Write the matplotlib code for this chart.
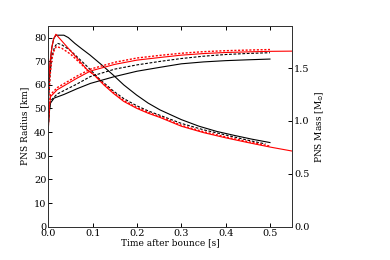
import matplotlib
matplotlib.use('Agg')
import matplotlib.pyplot as plt

plt.rcParams['font.family'] = 'DejaVu Serif'
plt.rcParams['font.size'] = 7

# PNS radius [km] vs time after bounce [s]
t_rad_k = [0.0, 0.004, 0.008, 0.012, 0.017, 0.035, 0.045, 0.06, 0.075, 0.094, 0.12, 0.146, 0.17, 0.199,
           0.225, 0.252, 0.3, 0.34, 0.38, 0.42, 0.46, 0.5]
rad_k = [55, 69, 76, 79.5, 81, 81, 80, 77.5, 75.3, 72.6, 68.5, 64.2, 60, 55.7,
         52.3, 49.4, 45.3, 42.5, 40.3, 38.6, 37.0, 35.6]

t_rad_kd = [0.0, 0.004, 0.008, 0.014, 0.02, 0.03, 0.05, 0.088, 0.115, 0.146, 0.17, 0.199, 0.225, 0.252,
            0.3, 0.35, 0.4, 0.45, 0.49]
rad_kd = [52, 65, 72, 76, 77.6, 77, 74.5, 67.7, 62.5, 57.5, 54.2, 51.2, 49, 47.1,
          43.7, 41, 38.8, 36.6, 35]

t_rad_r = [0.0, 0.004, 0.008, 0.012, 0.017, 0.05, 0.088, 0.103, 0.125, 0.146, 0.17, 0.199, 0.225, 0.252,
           0.3, 0.35, 0.4, 0.45, 0.5, 0.55]
rad_r = [60.7, 70, 76, 79.5, 81.4, 74.4, 66.3, 64.2, 60, 56.5, 53, 50.1, 48, 46.2,
         42.5, 39.8, 37.6, 35.6, 33.7, 32]

t_rad_rd = [0.0, 0.004, 0.008, 0.013, 0.018, 0.03, 0.05, 0.088, 0.103, 0.125, 0.146, 0.17, 0.199, 0.225,
            0.252, 0.3, 0.35, 0.4, 0.45, 0.5]
rad_rd = [52, 64, 71, 74.5, 76.2, 75.5, 73, 66.3, 64.4, 60.4, 56.9, 53.4, 50.5, 48.4,
          46.6, 42.9, 40.2, 38, 36, 34.1]

# PNS mass [Msun] vs time after bounce [s]
t_m_k = [0.0, 0.002, 0.005, 0.013, 0.035, 0.065, 0.095, 0.15, 0.2, 0.252, 0.3, 0.35, 0.4, 0.45, 0.5]
mass_k = [0.95, 1.08, 1.17, 1.216, 1.25, 1.305, 1.355, 1.42, 1.47, 1.507, 1.54, 1.558, 1.57, 1.578, 1.585]

t_m_kd = [0.0, 0.002, 0.005, 0.02, 0.065, 0.095, 0.15, 0.2, 0.252, 0.3, 0.35, 0.4, 0.45, 0.5]
mass_kd = [0.95, 1.1, 1.19, 1.255, 1.35, 1.42, 1.49, 1.53, 1.563, 1.59, 1.612, 1.628, 1.638, 1.645]

t_m_r = [0.0, 0.002, 0.005, 0.02, 0.065, 0.095, 0.15, 0.2, 0.252, 0.3, 0.35, 0.4, 0.45, 0.5, 0.55]
mass_r = [0.95, 1.12, 1.23, 1.295, 1.405, 1.472, 1.535, 1.575, 1.60, 1.622, 1.637, 1.647, 1.653, 1.658, 1.66]

t_m_rd = [0.0, 0.002, 0.005, 0.02, 0.065, 0.095, 0.15, 0.2, 0.252, 0.3, 0.35, 0.4, 0.45, 0.5]
mass_rd = [0.95, 1.14, 1.25, 1.315, 1.425, 1.49, 1.555, 1.595, 1.62, 1.64, 1.655, 1.664, 1.67, 1.675]

fig = plt.figure(figsize=(3.9, 2.6), dpi=100)
ax = fig.add_axes([0.124, 0.128, 0.625, 0.773])
ax2 = ax.twinx()

ax.plot(t_rad_k, rad_k, 'k-', lw=0.8)
ax.plot(t_rad_kd, rad_kd, 'k--', lw=0.8, dashes=(2.5, 1.5))
ax.plot(t_rad_r, rad_r, 'r-', lw=0.8)
ax.plot(t_rad_rd, rad_rd, 'r:', lw=1.0, dashes=(1.5, 1.2))

ax2.plot(t_m_k, mass_k, 'k-', lw=0.8)
ax2.plot(t_m_kd, mass_kd, 'k--', lw=0.8, dashes=(2.5, 1.5))
ax2.plot(t_m_r, mass_r, 'r-', lw=0.8)
ax2.plot(t_m_rd, mass_rd, 'r:', lw=1.0, dashes=(1.5, 1.2))

ax.set_xlim(0, 0.55)
ax.set_ylim(0, 85)
ax2.set_ylim(0, 1.9)
ax.set_xticks([0.0, 0.1, 0.2, 0.3, 0.4, 0.5])
ax.set_yticks([0, 10, 20, 30, 40, 50, 60, 70, 80])
ax2.set_yticks([0.0, 0.5, 1.0, 1.5])

ax.tick_params(direction='in', top=True, length=3, width=0.7, pad=1.5)
ax2.tick_params(direction='in', length=3, width=0.7, pad=1.5)
for a in (ax, ax2):
    for s in a.spines.values():
        s.set_linewidth(0.7)
        s.set_color('#333333')

ax.set_xlabel('Time after bounce [s]', fontsize=6.5, labelpad=0.5)
ax.set_ylabel('PNS Radius [km]', fontsize=6.5, labelpad=3)
ax2.set_ylabel(r'PNS Mass [M$_{\odot}$]', fontsize=6.5, labelpad=3)

fig.savefig('out.png', dpi=100)
